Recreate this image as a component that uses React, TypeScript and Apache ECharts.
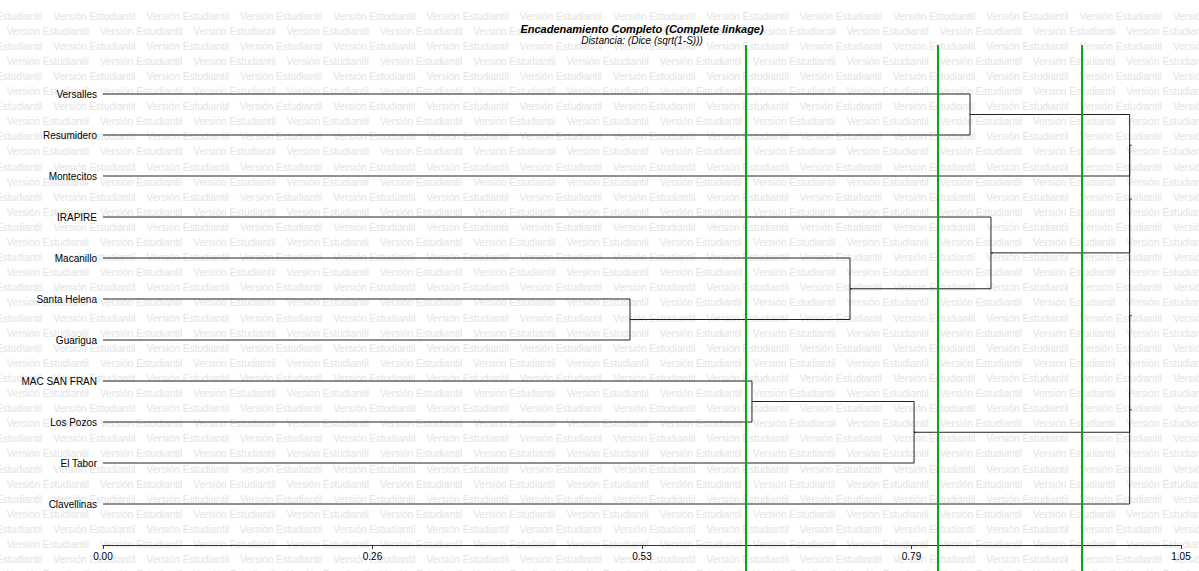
import React, { useEffect, useRef } from "react";
import * as echarts from "echarts";

const leaves = [
  "Versalles",
  "Resumidero",
  "Montecitos",
  "IRAPIRE",
  "Macanillo",
  "Santa Helena",
  "Guarigua",
  "MAC SAN FRAN",
  "Los Pozos",
  "El Tabor",
  "Clavellinas",
];

// merges: [childA, childB, height]; leaves are 0..10, clusters 11+
const merges: [number, number, number][] = [
  [0, 1, 0.8445],
  [5, 6, 0.5133],
  [4, 12, 0.7276],
  [3, 13, 0.8649],
  [7, 8, 0.6321],
  [15, 9, 0.79],
  [11, 2, 1.0],
  [17, 14, 1.0],
  [18, 16, 1.0],
  [19, 10, 1.0],
];

const cutLines = [0.6263, 0.8133, 0.9536];

const xTickLabels = ["0.00", "0.26", "0.53", "0.79", "1.05"];
const xMax = 1.05;
const xInterval = 0.2625;

const titleText = "Encadenamiento Completo (Complete linkage)";
const subTitleText = "Distancia: (Dice (sqrt(1-S)))";
const watermarkText = "Versión Estudiantil";

const FONT = "'Liberation Sans', Arial, sans-serif";

function buildSegments() {
  const pos: { x: number; y: number }[] = leaves.map((_, i) => ({ x: 0, y: i }));
  const segs: number[][] = [];
  merges.forEach(([a, b, h]) => {
    const pa = pos[a];
    const pb = pos[b];
    segs.push([pa.x, pa.y, pb.x, pb.y, h]);
    pos.push({ x: h, y: (pa.y + pb.y) / 2 });
  });
  return segs;
}

function buildWatermark() {
  const items: any[] = [];
  const period = 93.3;
  for (let r = 0; r < 38; r++) {
    const y = 16 + r * 15.1;
    const x0 = r % 2 === 0 ? -40 : 6.7;
    for (let c = 0; c < 14; c++) {
      const x = x0 + c * period;
      if (x > 1199) break;
      items.push({
        type: "text",
        x,
        y,
        z: -10,
        silent: true,
        style: {
          text: watermarkText,
          fill: "#e3e3e3",
          fontSize: 10,
          fontFamily: FONT,
          verticalAlign: "middle",
          align: "left",
        },
      });
    }
  }
  return items;
}

export default function App() {
  const ref = useRef<HTMLDivElement>(null);
  useEffect(() => {
    if (!ref.current) return;
    const chart = echarts.init(ref.current, undefined, { renderer: "svg" });
    const segs = buildSegments();
    chart.setOption({
      animation: false,
      backgroundColor: "#ffffff",
      textStyle: { fontFamily: FONT },
      title: [
        {
          text: titleText,
          left: 642,
          top: 23,
          textAlign: "center",
          padding: 0,
          textStyle: {
            fontSize: 11,
            fontWeight: "bold",
            fontStyle: "italic",
            color: "#000",
            fontFamily: FONT,
          },
        },
        {
          text: subTitleText,
          left: 642,
          top: 35,
          textAlign: "center",
          padding: 0,
          textStyle: {
            fontSize: 10,
            fontWeight: "normal",
            fontStyle: "italic",
            color: "#000",
            fontFamily: FONT,
          },
        },
      ],
      graphic: buildWatermark(),
      grid: { left: 103, right: 18, top: 53, bottom: 26, containLabel: false },
      xAxis: {
        type: "value",
        position: "bottom",
        min: 0,
        max: xMax,
        interval: xInterval,
        splitLine: { show: false },
        axisLine: { show: true, onZero: false, lineStyle: { color: "#333", width: 1 } },
        axisTick: { show: true, length: 4, inside: false, lineStyle: { color: "#333" } },
        axisLabel: {
          margin: 6,
          fontSize: 10,
          color: "#000",
          fontFamily: FONT,
          formatter: (v: number) => xTickLabels[Math.round(v / xInterval)] ?? "",
        },
      },
      yAxis: {
        type: "value",
        inverse: true,
        min: -1,
        max: leaves.length,
        interval: 1,
        splitLine: { show: false },
        axisLine: { show: false, onZero: false },
        axisTick: { show: false },
        axisLabel: {
          margin: 6,
          fontSize: 10,
          color: "#000",
          fontFamily: FONT,
          formatter: (v: number) => leaves[Math.round(v)] ?? "",
        },
      },
      series: [
        {
          type: "custom",
          z: 3,
          clip: false,
          data: segs,
          encode: { x: [0, 2, 4], y: [1, 3] },
          renderItem: (params: any, api: any) => {
            const xa = api.value(0), ya = api.value(1);
            const xb = api.value(2), yb = api.value(3);
            const h = api.value(4);
            const p1 = api.coord([xa, ya]);
            const p2 = api.coord([h, ya]);
            const p3 = api.coord([h, yb]);
            const p4 = api.coord([xb, yb]);
            const mid = api.coord([h, (ya + yb) / 2]);
            return {
              type: "group",
              children: [
                {
                  type: "polyline",
                  shape: { points: [p1, p2, p3, p4] },
                  style: { stroke: "#222", lineWidth: 1, fill: null },
                },
                {
                  type: "line",
                  shape: { x1: mid[0], y1: mid[1], x2: mid[0] + 2, y2: mid[1] },
                  style: { stroke: "#222", lineWidth: 1 },
                },
              ],
            };
          },
        },
        {
          type: "custom",
          z: 4,
          clip: false,
          data: cutLines.map((v) => [v, 0]),
          encode: { x: 0, y: 1 },
          renderItem: (params: any, api: any) => {
            const cs = params.coordSys;
            const x = api.coord([api.value(0), 0])[0];
            return {
              type: "line",
              shape: { x1: x, y1: cs.y - 8, x2: x, y2: cs.y + cs.height + 30 },
              style: { stroke: "#14a014", lineWidth: 2 },
            };
          },
        },
      ],
    });
    return () => chart.dispose();
  }, []);
  return (
    <div
      ref={ref}
      style={{ position: "fixed", left: 0, top: 0, width: 1199, height: 571, background: "#fff" }}
    />
  );
}
